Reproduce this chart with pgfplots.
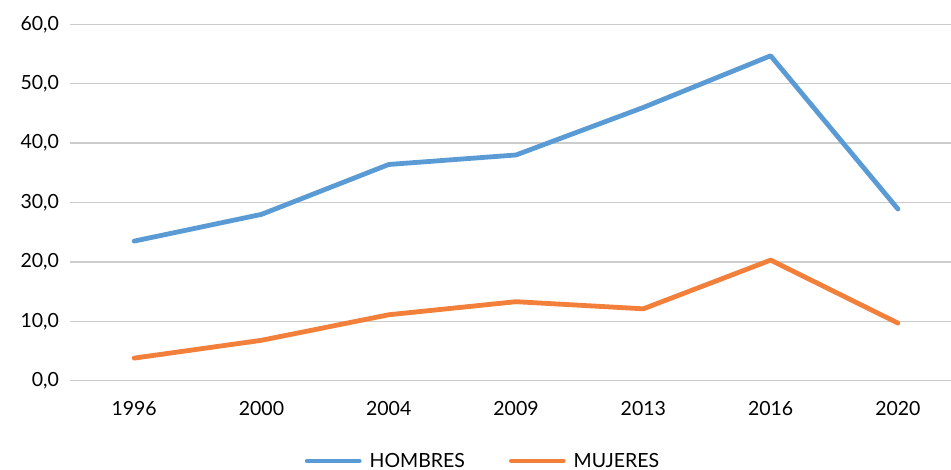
\documentclass[border=0pt]{standalone}
\usepackage{pgfplots}
\pgfplotsset{compat=1.18}
\usepackage{fontspec}
\setmainfont{Lato}
\definecolor{hombres}{HTML}{5B9BD5}
\definecolor{mujeres}{HTML}{F3803A}
\definecolor{gridgray}{HTML}{CCCCCC}

\pgfplotstableread{
x anio hombres mujeres
0 1996 23.5 3.8
1 2000 28.0 6.8
2 2004 36.4 11.1
3 2009 38.0 13.3
4 2013 46.0 12.1
5 2016 54.7 20.3
6 2020 28.9 9.7
}\datos

\begin{document}
\begin{tikzpicture}
\useasboundingbox (-70.5pt,-89.3pt) rectangle (880.5pt,380.7pt);
\begin{axis}[
  at={(0,0)}, anchor=south west,
  scale only axis,
  width=880.5pt, height=356.4pt,
  xmin=-0.5, xmax=6.417,
  ymin=0, ymax=60,
  ytick={0,10,...,60},
  xtick=data,
  xticklabels={1996,2000,2004,2009,2013,2016,2020},
  axis line style={draw=none},
  major tick length=0pt,
  xmajorgrids=false,
  ymajorgrids=true,
  y grid style={gridgray, line width=1.4pt},
  font=\fontsize{19.5}{21}\selectfont,
  /pgf/number format/fixed,
  /pgf/number format/fixed zerofill,
  /pgf/number format/precision=1,
  /pgf/number format/use comma,
  /pgf/number format/assume math mode=true,
  yticklabel style={xshift=-8pt},
  xticklabel style={yshift=-17pt},
  legend columns=2,
  legend style={draw=none, fill=none, at={(0.4685,-0.2253)}, anchor=center,
    font=\fontsize{19.5}{21}\selectfont,
    /tikz/every odd column/.append style={column sep=6pt},
    /tikz/every even column/.append style={column sep=42pt}},
  legend image code/.code={\draw[#1, line cap=round] (0pt,0pt) -- (52pt,0pt);},
  clip=false,
]
\addplot[hombres, line width=4.8pt, line join=round, line cap=round] table[x=x, y=hombres] {\datos};
\addlegendentry{HOMBRES}
\addplot[mujeres, line width=4.8pt, line join=round, line cap=round] table[x=x, y=mujeres] {\datos};
\addlegendentry{MUJERES}
\end{axis}
\end{tikzpicture}
\end{document}
